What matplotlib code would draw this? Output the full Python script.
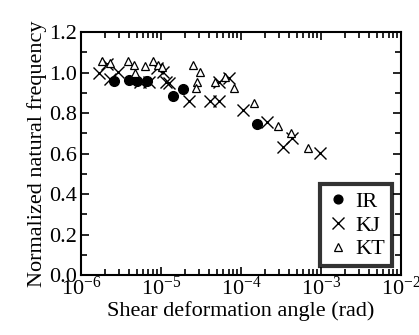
import matplotlib
matplotlib.use("Agg")
import matplotlib.pyplot as plt
from matplotlib.ticker import LogLocator, MultipleLocator, NullFormatter

plt.rcParams["font.family"] = ["Liberation Serif", "DejaVu Serif"]
plt.rcParams["mathtext.fontset"] = "custom"
plt.rcParams["mathtext.rm"] = "Liberation Serif"

# IR (filled circles)
ir_x = [2.58e-6, 4.0e-6, 5.06e-6, 6.75e-6, 1.40e-5, 1.90e-5, 1.57e-4]
ir_y = [0.960, 0.963, 0.960, 0.960, 0.885, 0.917, 0.744]

# KJ (crosses)
kj_x = [1.70e-6, 2.10e-6, 2.30e-6, 2.92e-6, 5.46e-6, 7.15e-6, 8.84e-6, 1.07e-5,
        1.15e-5, 1.27e-5, 2.27e-5, 4.10e-5, 5.36e-5, 5.36e-5, 7.08e-5, 1.06e-4,
        2.13e-4, 4.30e-4, 3.38e-4, 9.6e-4]
kj_y = [1.000, 1.045, 0.971, 1.004, 0.955, 0.955, 1.021, 1.004,
        0.955, 0.950, 0.861, 0.861, 0.861, 0.955, 0.975, 0.815,
        0.755, 0.679, 0.634, 0.601]

# KT (open triangles)
kt_x = [1.86e-6, 2.30e-6, 3.85e-6, 4.67e-6, 6.31e-6, 7.9e-6, 9.25e-6, 1.03e-5,
        4.73e-6, 2.53e-5, 3.07e-5, 2.84e-5, 2.74e-5, 4.73e-5, 6.31e-5, 8.18e-5,
        1.45e-4, 2.92e-4, 4.18e-4, 6.88e-4]
kt_y = [1.059, 1.048, 1.057, 1.037, 1.035, 1.057, 1.037, 1.027,
        0.996, 1.037, 1.004, 0.955, 0.922, 0.955, 0.976, 0.922,
        0.851, 0.738, 0.701, 0.626]

fig = plt.figure(figsize=(4.19, 3.35), dpi=100)
ax = fig.add_axes([0.193, 0.179, 0.764, 0.725])

ax.plot(ir_x, ir_y, "o", color="black", markersize=7, label="IR")
ax.plot(kj_x, kj_y, "x", color="black", markersize=9, markeredgewidth=1.0, label="KJ")
ax.plot(kt_x, kt_y, "^", color="black", markerfacecolor="white",
        markersize=6, markeredgewidth=0.9, label="KT")

ax.set_xscale("log")
ax.set_xlim(1e-6, 1e-2)
ax.set_ylim(0.0, 1.2)
ax.xaxis.set_major_locator(LogLocator(base=10, numticks=10))
ax.xaxis.set_minor_locator(LogLocator(base=10, subs=range(2, 10), numticks=20))
ax.xaxis.set_minor_formatter(NullFormatter())
ax.yaxis.set_major_locator(MultipleLocator(0.2))
ax.yaxis.set_minor_locator(MultipleLocator(0.1))
ax.yaxis.set_major_formatter(plt.FormatStrFormatter("%.1f"))

ax.tick_params(which="both", direction="in", top=True, right=True, labelsize=16, width=1.2)
ax.tick_params(which="major", length=6)
ax.tick_params(which="minor", length=4)
ax.tick_params(axis="x", pad=1)
ax.tick_params(axis="y", pad=3)
for s in ax.spines.values():
    s.set_linewidth(1.5)

ax.set_xlabel("Shear deformation angle (rad)", fontsize=16, labelpad=1)
ax.set_ylabel("Normalized natural frequency", fontsize=16, labelpad=1)

leg = ax.legend(loc="lower right", fontsize=16, frameon=True, fancybox=False,
                handletextpad=0.3, borderpad=0.3, labelspacing=0.15,
                handlelength=1.0, borderaxespad=0.4, markerscale=0.9)
leg.get_frame().set_edgecolor("black")
leg.get_frame().set_linewidth(3)

fig.savefig("out.png", dpi=100)
